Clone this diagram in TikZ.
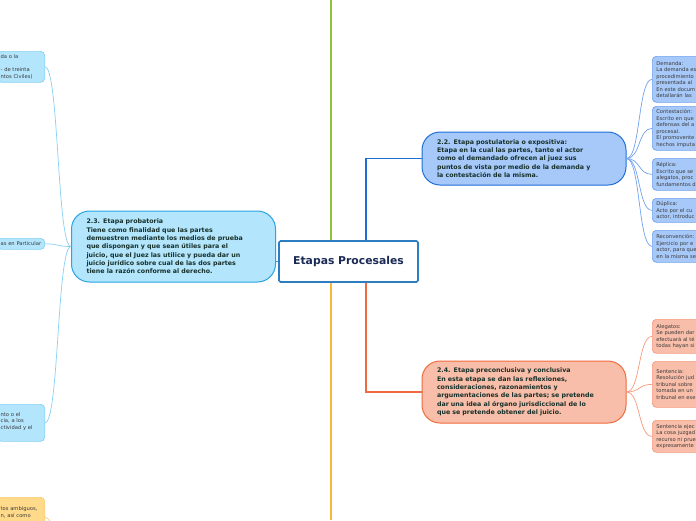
\documentclass[tikz,border=0pt]{standalone}
\usepackage{fontspec}
\setmainfont{DejaVu Sans}
\usepackage{tikz}
\usetikzlibrary{positioning,calc}

\definecolor{rootline}{HTML}{2D7DC1}
\definecolor{rootink}{HTML}{1B2A55}
\definecolor{stageink}{HTML}{17302A}
\definecolor{leafink}{HTML}{3A3A3A}
\definecolor{greenbr}{HTML}{8CC63F}
\definecolor{bluebr}{HTML}{1F6FD6}
\definecolor{yellowbr}{HTML}{F8B73A}
\definecolor{redbr}{HTML}{EF6A3E}
\definecolor{skybr}{HTML}{2AA4E2}
\definecolor{skyfill}{HTML}{B3E5FC}
\definecolor{skytwig}{HTML}{86D2F4}
\definecolor{bluefill}{HTML}{A7C9F9}
\definecolor{bluetwig}{HTML}{6FA3EE}
\definecolor{redfill}{HTML}{F9BEA9}
\definecolor{redtwig}{HTML}{F59A7C}
\definecolor{sandfill}{HTML}{FFDA8A}
\definecolor{sandtwig}{HTML}{FCCB6E}

\begin{document}
\begin{tikzpicture}[x=1pt, y=-1pt,
      root/.style={draw=rootline, line width=1.6pt, fill=white, rounded corners=1.5pt,
                   minimum width=139pt, minimum height=41pt, text=rootink,
                   font=\fontsize{10.8}{12}\selectfont\bfseries},
      stage/.style={line width=1pt, rounded corners=18pt, text width=174pt, align=left,
                    inner xsep=15pt, text=stageink,
                    font=\fontsize{6.3}{8.3}\selectfont\bfseries},
      leaf/.style={line width=0.7pt, rounded corners=4pt, align=left, inner ysep=2pt,
                   text=leafink, font=\fontsize{5.2}{6.5}\selectfont},
      rleaf/.style={leaf, anchor=north west, text width=70pt, inner xsep=4pt},
      lleaf/.style={leaf, anchor=north east, text width=41pt, inner xsep=3pt,
                    draw=skytwig, fill=skyfill},
      branch/.style={line width=1.5pt},
      twig/.style={line width=0.7pt}]
    \useasboundingbox (0,0) rectangle (696,520);
    \clip (0,0) rectangle (696,520);
    \fill[white] (0,0) rectangle (696,520);

    \coordinate (top) at (331,0);
    \coordinate (bottom) at (331,520);
    \coordinate (sandnext) at (74,600);

    \node[root] (proc) at (348.5,261.5) {Etapas Procesales};

    \node[stage, draw=bluebr, fill=bluefill, minimum height=53pt] (postul) at (524,158.5)
      {2.2. Etapa postulatoria o expositiva:\\
       Etapa en la cual las partes, tanto el actor\\
       como el demandado ofrecen al juez sus\\
       puntos de vista por medio de la demanda y\\
       la contestación de la misma.};
    \node[stage, draw=skybr, fill=skyfill, minimum height=71pt] (probat) at (173.5,246.5)
      {2.3. Etapa probatoria\\
       Tiene como finalidad que las partes\\
       demuestren mediante los medios de prueba\\
       que dispongan y que sean útiles para el\\
       juicio, que el Juez las utilice y pueda dar un\\
       juicio jurídico sobre cual de las dos partes\\
       tiene la razón conforme al derecho.};
    \node[stage, draw=redbr, fill=redfill, minimum height=62pt] (concl) at (524,392)
      {2.4. Etapa preconclusiva y conclusiva\\
       En esta etapa se dan las reflexiones,\\
       consideraciones, razonamientos y\\
       argumentaciones de las partes; se pretende\\
       dar una idea al órgano jurisdiccional de lo\\
       que se pretende obtener del juicio.};

    % main branches
    \draw[branch, greenbr] (top) -- (top |- proc.north);
    \draw[branch, bluebr] ([xshift=17.5pt]proc.north) |- (postul.west);
    \draw[branch, yellowbr] (bottom |- proc.south) -- (bottom);
    \draw[branch, redbr] ([xshift=17.5pt]proc.south) |- (concl.west);
    \draw[branch, skybr] (proc.west) -- (proc.west -| probat.east);

    % children of 2.2
    \node[rleaf, draw=bluetwig, fill=bluefill, minimum height=46pt] (dem) at (652,56)
      {Demanda:\\La demanda es\\procedimiento\\presentada al\\En este docum\\detallarán las};
    \node[rleaf, draw=bluetwig, fill=bluefill, minimum height=44pt] (cont) at (652,106)
      {Contestación:\\Escrito en que\\defensas del a\\procesal.\\El promovente\\hechos imputa};
    \node[rleaf, draw=bluetwig, fill=bluefill, minimum height=32pt] (rep) at (652,158)
      {Réplica:\\Escrito que se\\alegatos, proc\\fundamentos d};
    \node[rleaf, draw=bluetwig, fill=bluefill, minimum height=24pt] (dup) at (652,198)
      {Dúplica:\\Acto por el cu\\actor, introduc};
    \node[rleaf, draw=bluetwig, fill=bluefill, minimum height=32pt] (rec) at (652,230)
      {Reconvención:\\Ejercicio por e\\actor, para que\\en la misma se};
    \foreach \leafname in {dem,cont,rep,dup,rec}
      \draw[twig, bluetwig] (postul.east) .. controls +(14,0) and +(-14,0) .. (\leafname.west);

    % children of 2.4
    \node[rleaf, draw=redtwig, fill=redfill, minimum height=34pt] (aleg) at (652,319)
      {Alegatos:\\Se pueden dar\\efectuará al té\\todas hayan si};
    \node[rleaf, draw=redtwig, fill=redfill, minimum height=46pt] (sent) at (652,361)
      {Sentencia:\\Resolución jud\\tribunal sobre\\tomada en un\\tribunal en ese};
    \node[rleaf, draw=redtwig, fill=redfill, minimum height=32pt] (ejec) at (652,420)
      {Sentencia ejec\\La cosa juzgad\\recurso ni prue\\expresamente};
    \foreach \leafname in {aleg,sent,ejec}
      \draw[twig, redtwig] (concl.east) .. controls +(14,0) and +(-14,0) .. (\leafname.west);

    % children of 2.3 (cut at the left edge)
    \node[lleaf, minimum height=31pt] (lfa) at (45,51)
      {da o la\\\mbox{}\\- de treinta\\ntos Civiles)};
    \node[lleaf, minimum height=11pt] (lfb) at (45,238) {as en Particular};
    \node[lleaf, minimum height=37pt] (lfc) at (45,404)
      {\mbox{}\\nto o el\\cia, a los\\ctividad y el\\\mbox{}};
    \foreach \leafname in {lfa,lfb,lfc}
      \draw[twig, skytwig] (probat.west) .. controls +(-14,0) and +(14,0) .. (\leafname.east);

    % next stage, below the picture
    \node[leaf, anchor=north east, text width=41pt, inner xsep=3pt, draw=sandtwig,
          fill=sandfill, minimum height=40pt] (lfd) at (45,497)
      {\mbox{}\\tos ambiguos,\\n, así como\\\mbox{}\\\mbox{}};
    \draw[twig, sandtwig] (lfd.east) .. controls +(14,0) and +(-14,0) .. (sandnext);
\end{tikzpicture}
\end{document}
